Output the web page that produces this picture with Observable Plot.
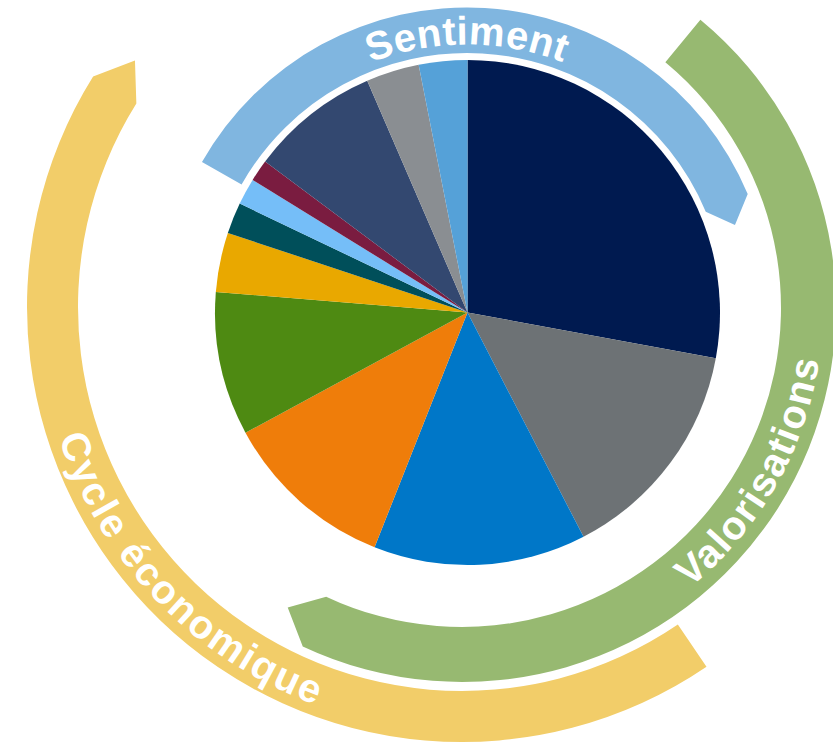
<!DOCTYPE html>
<html><head><meta charset="utf-8">
<script src="https://cdn.jsdelivr.net/npm/d3@7"></script>
<script src="https://cdn.jsdelivr.net/npm/@observablehq/plot@0.6"></script>
<style>html,body{margin:0;padding:0;background:#fff;overflow:hidden}</style>
</head><body><div id="chart"></div>
<script>
// ---- data ----
const categories = ["S1","S2","S3","S4","S5","S6","S7","S8","S9","S10","S11","S12"];
const values = [27.9, 14.5, 13.6, 11.1, 9.2, 3.8, 2.0, 1.7, 1.4, 8.3, 3.4, 3.1];
const sliceColors = ["#001a50","#6d7275","#0077c8","#ef7d0a","#4e8a12","#e9a800","#004f5a","#75bef8","#7a1c40","#334870","#8a8e92","#55a1d8"];
const themes = ["Sentiment","Valorisations","Cycle économique"];
const themeColors = ["#80b6e0","#97b971","#f2cd69"];

// ---- layout (pixels / degrees, clockwise from 12 o'clock) ----
const pie = {cx: 467.5, cy: 312.5, r: 252.5};
const rings = [
  {cx: 467, cy: 312, r0: 259, r1: 304.5, a0: -60.5, a1: 67.2, tip: 4.8, textAngle: 0, cw: true, font: 40, ls: 0.4},
  {cx: 462, cy: 308, r0: 319, r1: 374, a0: 39.6, a1: 205.2, tip: 5, textAngle: 119.5, cw: false, font: 40, ls: 1.6},
  {cx: 462, cy: 307, r0: 384, r1: 435, a0: 145.8, a1: 302, tip: 5, textAngle: 226, cw: false, font: 40, ls: 2}
];

const rows = categories.map((c, i) => ({name: c, value: values[i]}));

function wheel(index, scales) {
  const sx = scales.x, sy = scales.y, color = scales.color;
  const len = v => sx(v) - sx(0);
  const g = d3.create("svg:g");
  const defs = g.append("defs");
  // pie slices
  const arcs = d3.pie().sort(null).value(d => d.value)(rows);
  const arcGen = d3.arc().innerRadius(0).outerRadius(len(pie.r));
  g.append("g")
    .attr("transform", `translate(${sx(pie.cx)},${sy(pie.cy)})`)
    .selectAll("path").data(arcs).join("path")
    .attr("d", arcGen)
    .attr("fill", d => color(d.data.name));
  // theme rings
  rings.forEach((ring, i) => {
    const cx = sx(ring.cx), cy = sy(ring.cy);
    const r0 = len(ring.r0), r1 = len(ring.r1), rm = (r0 + r1) / 2;
    const rad = a => (a - 90) * Math.PI / 180;
    const pt = (r, a) => [cx + r * Math.cos(rad(a)), cy + r * Math.sin(rad(a))];
    const p = d3.path();
    p.moveTo(...pt(r1, ring.a0));
    p.arc(cx, cy, r1, rad(ring.a0), rad(ring.a1), false);
    p.lineTo(...pt(rm, ring.a1 + ring.tip));
    p.lineTo(...pt(r0, ring.a1));
    p.arc(cx, cy, r0, rad(ring.a1), rad(ring.a0), true);
    p.closePath();
    g.append("path").attr("d", p.toString()).attr("fill", color(themes[i]));
    // text along the ring
    const cap = 0.716 * ring.font;
    const rb = ring.cw ? rm - cap / 2 : rm + cap / 2;
    const tp = d3.path();
    const t = ring.textAngle;
    if (ring.cw) {
      tp.moveTo(...pt(rb, t - 90));
      tp.arc(cx, cy, rb, rad(t - 90), rad(t + 90), false);
    } else {
      tp.moveTo(...pt(rb, t + 90));
      tp.arc(cx, cy, rb, rad(t + 90), rad(t - 90), true);
    }
    const id = "ringpath" + i;
    defs.append("path").attr("id", id).attr("d", tp.toString());
    g.append("text")
      .attr("fill", "#fff")
      .attr("font-family", "'Liberation Sans', Arial, sans-serif")
      .attr("font-weight", "bold")
      .attr("font-size", ring.font)
      .attr("letter-spacing", ring.ls)
      .append("textPath")
      .attr("href", "#" + id)
      .attr("startOffset", "50%")
      .attr("text-anchor", "middle")
      .text(themes[i]);
  });
  return g.node();
}

const chart = Plot.plot({
  width: 833,
  height: 743,
  margin: 0,
  style: {background: "#fff"},
  x: {domain: [0, 833], range: [0, 833], axis: null},
  y: {domain: [0, 743], range: [0, 743], axis: null},
  color: {type: "ordinal", domain: categories.concat(themes), range: sliceColors.concat(themeColors)},
  marks: [
    Plot.dot(categories.concat(themes), {x: () => pie.cx, y: () => pie.cy, fill: d => d, r: 0}),
    wheel
  ]
});
document.getElementById("chart").appendChild(chart);
</script>
</body></html>
